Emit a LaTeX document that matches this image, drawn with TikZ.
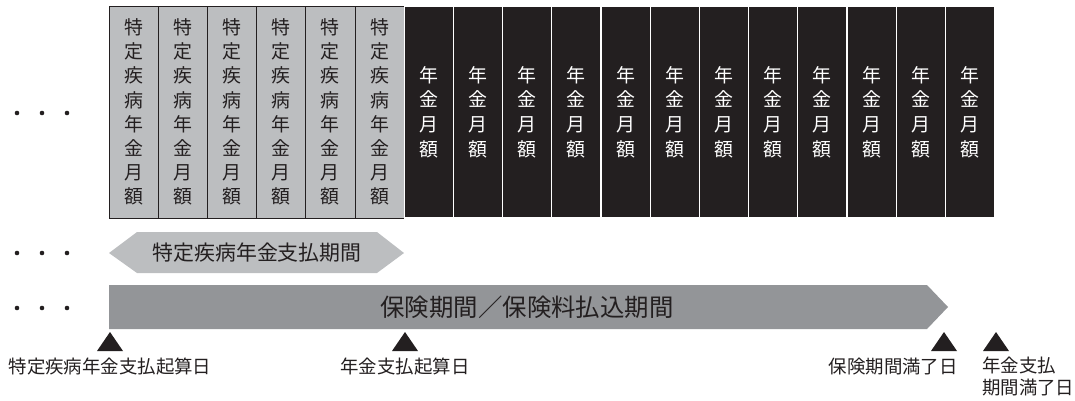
\documentclass[tikz,border=0pt]{standalone}
\usepackage{fontspec}
\usepackage{xcolor}
\newfontfamily\jp{Noto Sans CJK JP}
\definecolor{cellgray}{HTML}{BCBEC0}
\definecolor{cellblack}{HTML}{231F20}
\definecolor{bargray}{HTML}{939598}
\tikzset{
  graycell/.style={draw=cellblack, line width=0.8pt, fill=cellgray, text=cellblack,
    minimum width=49.2bp, minimum height=212bp, inner sep=0pt, align=center,
    font=\jp\fontsize{19}{24.3}\selectfont},
  blackcell/.style={draw=white, line width=1.2pt, fill=cellblack, text=white,
    minimum width=49.2bp, minimum height=212bp, inner sep=0pt, align=center,
    font=\jp\fontsize{19}{24.9}\selectfont},
  datelabel/.style={text=cellblack, inner sep=0pt, align=left,
    font=\jp\fontsize{18.5}{21.5}\selectfont},
  mark tri/.style={fill=cellblack}
}

\begin{document}
\begin{tikzpicture}[x=1bp, y=-1bp]
  \useasboundingbox (0,0) rectangle (1075,400);

  % continuation dots in front of each row
  \foreach \row in {113,253,308}
    \foreach \dx in {17,42,67}
      \fill[cellblack] (\dx,\row) circle (2.3);

  % monthly amounts: 6 special illness columns, 12 pension columns
  \foreach \i in {0,...,5}
    \node[graycell] (g\i) at (109+24.6+49.2*\i,112)
      {特\\定\\疾\\病\\年\\金\\月\\額};
  \foreach \i in {6,...,17}
    \node[blackcell] (b\i) at (109+24.6+49.2*\i,112)
      {年\\金\\月\\額};

  % payment period of the special illness pension
  \fill[cellgray] (109,253) -- (137,232) -- (377,232) -- (404,253)
    -- (377,273) -- (137,273) -- cycle;
  \node[text=cellblack, font=\jp\fontsize{21}{21}\selectfont] (paylabel)
    at (257,253) {特定疾病年金支払期間};

  % insurance period / premium payment period
  \fill[bargray] (109,285) -- (927,285) -- (948,307) -- (927,329)
    -- (109,329) -- cycle;
  \node[text=cellblack, font=\jp\fontsize{24.5}{24.5}\selectfont] (barlabel)
    at (527,307) {保険期間／保険料払込期間};

  % date markers
  \foreach \name/\x in {start/110,pstart/405,iend/944,pend/996} {
    \coordinate (\name) at (\x,332);
    \fill[mark tri] (\name) -- ++(13,19) -- ++(-26,0) -- cycle;
  }
  \node[datelabel] (startlabel) at (110,367) {特定疾病年金支払起算日};
  \node[datelabel] (pstartlabel) at (405,367) {年金支払起算日};
  \node[datelabel, anchor=east] (iendlabel) at (958,367) {保険期間満了日};
  \node[datelabel, anchor=north west] (pendlabel) at (982,357)
    {年金支払\\期間満了日};
\end{tikzpicture}
\end{document}
